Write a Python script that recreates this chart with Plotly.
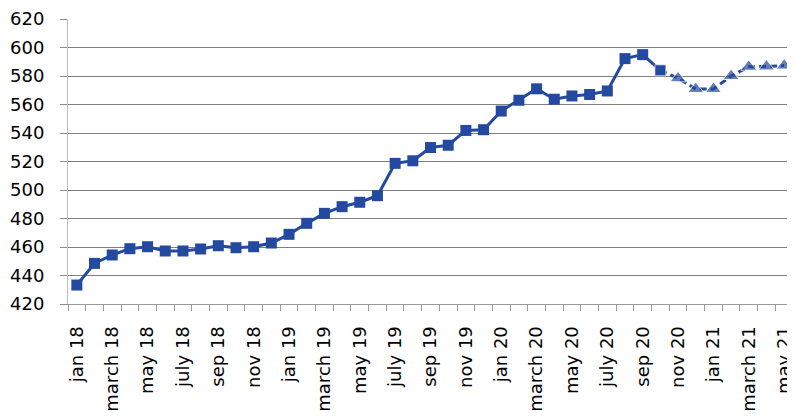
import plotly.graph_objects as go

months = [
    "jan 18", "feb 18", "march 18", "apr 18", "may 18", "june 18", "july 18", "aug 18",
    "sep 18", "oct 18", "nov 18", "dec 18",
    "jan 19", "feb 19", "march 19", "apr 19", "may 19", "june 19", "july 19", "aug 19",
    "sep 19", "oct 19", "nov 19", "dec 19",
    "jan 20", "feb 20", "march 20", "apr 20", "may 20", "june 20", "july 20", "aug 20",
    "sep 20", "oct 20", "nov 20", "dec 20",
    "jan 21", "feb 21", "march 21", "apr 21", "may 21",
]

actual = [
    433.3, 448.5, 454.4, 458.8, 460.2, 457.2, 457.2, 458.6, 460.9, 459.5, 460.2, 462.8,
    468.9, 476.6, 483.6, 488.3, 491.4, 496.0, 518.7, 520.5, 529.8, 531.4, 541.8, 542.3,
    555.4, 563.0, 571.0, 563.7, 566.0, 567.0, 569.5, 592.2, 595.0, 584.0,
]
forecast = [578.4, 570.9, 570.9, 580.0, 586.5, 586.7, 587.3]

tick_labels = months[::2]

color = "#2349A0"
n_act = len(actual)
x_act = list(range(n_act))
x_fc = list(range(n_act - 1, n_act + len(forecast)))
y_fc = [actual[-1]] + forecast

fig = go.Figure()
fig.add_trace(go.Scatter(
    x=x_act, y=actual, mode="lines+markers",
    line=dict(color=color, width=3),
    marker=dict(symbol="square", size=11, color=color),
    showlegend=False, hoverinfo="skip",
))
fig.add_trace(go.Scatter(
    x=x_fc, y=y_fc, mode="lines+markers",
    line=dict(color=color, width=3, dash="7px,4px"),
    marker=dict(symbol=["square"] + ["triangle-up"] * len(forecast),
                size=[11] + [14] * len(forecast), color=color),
    showlegend=False, hoverinfo="skip",
))

tickvals = [months.index(t) for t in tick_labels]

# page body has an 8px default margin, so the figure is sized to fit the window
fig.update_layout(
    width=787, height=408,
    margin=dict(l=60, r=2, t=11, b=112),
    paper_bgcolor="white", plot_bgcolor="white",
    font=dict(family="DejaVu Sans", size=18, color="#000000"),
    xaxis=dict(
        range=[-0.5, len(months) - 0.5],
        tickvals=tickvals, ticktext=tick_labels,
        tickangle=-90, ticks="", showgrid=False,
        showline=True, linecolor="#9a9a9a", linewidth=1,
        zeroline=False, automargin=False,
        ticklabelstandoff=14,
        minor=dict(ticks="outside", tick0=-0.5, dtick=1, ticklen=6,
                   tickcolor="#9a9a9a", tickwidth=1, showgrid=False),
        tickfont=dict(size=18),
    ),
    yaxis=dict(
        range=[420, 620], dtick=20, tick0=420,
        showgrid=True, gridcolor="#7f7f7f", gridwidth=1,
        ticks="outside", ticklen=7, tickcolor="#8c8c8c",
        showline=True, linecolor="#bdbdbd", linewidth=1,
        zeroline=False, automargin=False,
        ticklabelstandoff=12,
        tickfont=dict(size=18),
    ),
)

fig.write_html("out.html")
